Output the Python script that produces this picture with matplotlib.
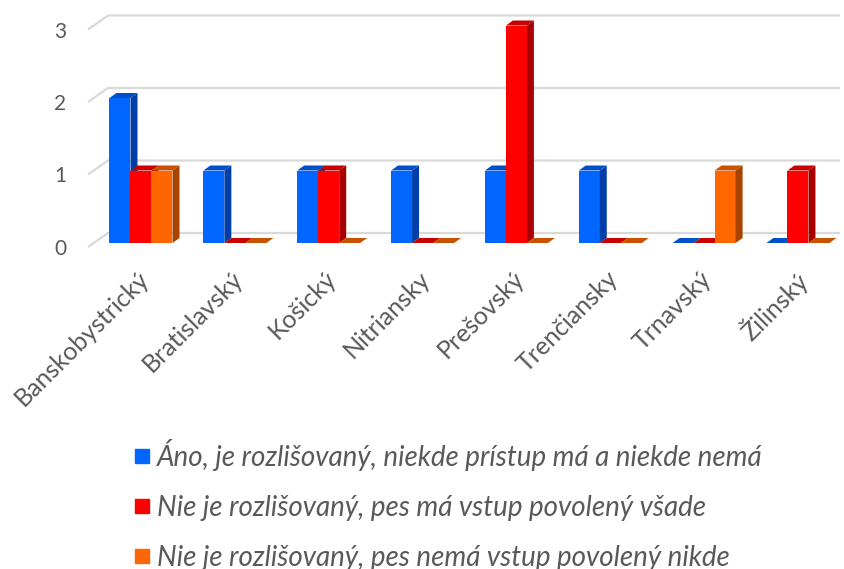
import matplotlib.pyplot as plt
from matplotlib.patches import Polygon
from matplotlib.lines import Line2D

regions = ['Banskobystrický', 'Bratislavský', 'Košický', 'Nitriansky',
           'Prešovský', 'Trenčiansky', 'Trnavský', 'Žilinský']
ano_rozlisovany = [2, 1, 1, 1, 1, 1, 0, 0]
vstup_vsade = [1, 0, 1, 0, 3, 0, 0, 1]
vstup_nikde = [1, 0, 0, 0, 0, 0, 1, 0]
series_names = ['Áno, je rozlišovaný, niekde prístup má a niekde nemá',
                'Nie je rozlišovaný, pes má vstup povolený všade',
                'Nie je rozlišovaný, pes nemá vstup povolený nikde']
yticks = [0, 1, 2, 3]

front_colors = ['#0066ff', '#ff0000', '#ff6600']
side_colors = ['#003fa8', '#a80000', '#a84300']
top_colors = ['#0050cc', '#c80000', '#c85200']
grey = '#595959'

plt.rcParams['font.family'] = ['Lato', 'DejaVu Sans']

fig = plt.figure(figsize=(8.45, 5.69), dpi=100)
ax = fig.add_axes([0, 0, 1, 1])
# one x unit = one region, one y unit = one count; px_* convert pixels to data
px_x = 1 / 93.85
px_y = 1 / 72.5
ax.set_xlim(-141 * px_x, (845 - 141) * px_x)
ax.set_ylim(-(569 - 243) * px_y, 243 * px_y)
ax.axis('off')

width = 21 * px_x
dx, dy = 7 * px_x, 5 * px_y

# gridlines with the little perspective step on the left
for v in yticks:
    ax.plot([-53 * px_x, -33 * px_x, 699 * px_x],
            [v - 4 * px_y, v + 10 * px_y, v + 10 * px_y],
            color='#d9d9d9', lw=1.6, zorder=0, solid_capstyle='butt')
    ax.text(-81 * px_x, v - 6 * px_y, str(v), ha='center', va='center',
            fontsize=15, color=grey)

series = [ano_rozlisovany, vstup_vsade, vstup_nikde]
for k, vals in enumerate(series):
    xs = [i + (k - 1.5) * width for i in range(len(regions))]
    ax.bar(xs, vals, width=width, align='edge', color=front_colors[k],
           zorder=k + 1)
    for x0, v in zip(xs, vals):
        x1 = x0 + width
        side = Polygon([(x1, 0), (x1 + dx, dy), (x1 + dx, v + dy), (x1, v)],
                       closed=True, facecolor=side_colors[k], edgecolor='none',
                       zorder=k + 1)
        top = Polygon([(x0, v), (x0 + dx, v + dy), (x1 + dx, v + dy), (x1, v)],
                      closed=True, facecolor=top_colors[k], edgecolor='none',
                      zorder=k + 1)
        ax.add_patch(side)
        ax.add_patch(top)

for i, name in enumerate(regions):
    ax.text(i - 4 * px_x, -24 * px_y, name, rotation=45, rotation_mode='anchor',
            ha='right', va='top', fontsize=18, color=grey)

handles = [Line2D([], [], marker='s', linestyle='none', color=c, markersize=9.5)
           for c in front_colors]
fig.legend(handles, series_names, loc='upper left',
           bbox_to_anchor=(133.6 / 845, 1 - 439 / 569), frameon=False,
           prop={'style': 'italic', 'size': 20}, labelcolor=grey,
           labelspacing=0.86, handlelength=0.6, handletextpad=0.24,
           borderpad=0, borderaxespad=0)

fig.savefig('out.png', dpi=100)
